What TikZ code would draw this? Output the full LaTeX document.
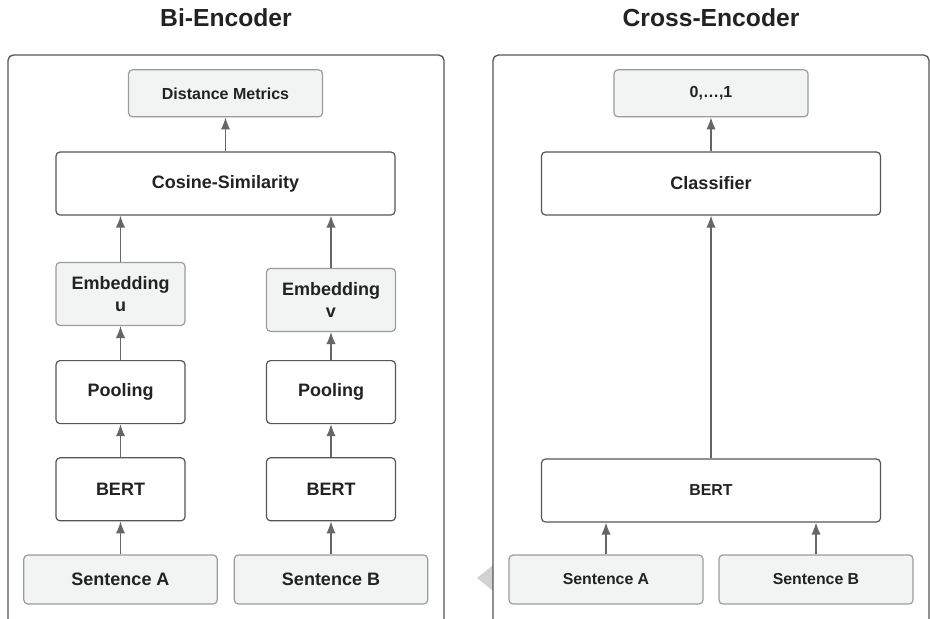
\documentclass[tikz,border=0pt]{standalone}
\usepackage{fontspec}
\setmainfont{Liberation Sans}
\usepackage{tikz}
\usetikzlibrary{positioning,arrows.meta}
\definecolor{boxclr}{HTML}{F2F3F3}
\definecolor{lineclr}{HTML}{555555}
\definecolor{softclr}{HTML}{9C9C9C}
\definecolor{arrowclr}{HTML}{666666}
\definecolor{txtclr}{HTML}{222222}
\definecolor{diamclr}{HTML}{D2D2D2}
\tikzset{ %
  ,>={Latex[length=9pt,width=7pt]}
  ,every node/.style={font=\bfseries\fontsize{13.5}{16.5}\selectfont, text=txtclr}
  ,block/.style={draw=lineclr, line width=0.9pt, rounded corners=3pt, fill=white, inner sep=0, minimum width=96.75pt, minimum height=47.25pt, node distance=24.75pt, align=center}
  ,data/.style={block, draw=softclr, fill=boxclr}
  ,wide/.style={block, minimum width=254.25pt}
  ,sent/.style={data, minimum width=145pt, minimum height=36.75pt}
  ,small/.style={font=\bfseries\fontsize{11.9}{14}\selectfont}
  ,tiny/.style={font=\bfseries\fontsize{12}{14}\selectfont}
  ,panel/.style={draw=lineclr, line width=1pt, rounded corners=4pt, fill=white}
  ,title/.style={font=\bfseries\fontsize{18.5}{22}\selectfont}
  ,flow/.style={->, draw=arrowclr, line width=1pt}
}
\begin{document}
\begin{tikzpicture}[x=0.75pt, y=-0.75pt]
    \useasboundingbox (0,0) rectangle (930,618);
    \clip (0,0) rectangle (930,618);
    % frames
    \draw[panel] (8,55) rectangle (444,640);
    \fill[diamclr] (477,578) -- (493,565) -- (509,578) -- (493,591) -- cycle;
    \draw[panel] (493,55) rectangle (929,640);
    \node[title] (bihead) at (226,18) {Bi-Encoder};
    \node[title] (crosshead) at (711,18) {Cross-Encoder};

    % bi-encoder
    \draw
    node[sent] (sa1) at (120.5,579.5) {Sentence A}
    node[block, above=of sa1] (bert1) {BERT}
    node[block, above=of bert1] (pool1) {Pooling}
    node[data, above=25.5pt of pool1] (emb1) {Embedding\\u}
    node[sent] (sb1) at (331,579.5) {Sentence B}
    node[block, above=of sb1] (bert2) {BERT}
    node[block, above=of bert2] (pool2) {Pooling}
    node[data, above=21pt of pool2] (emb2) {Embedding\\v}
    node[wide] (cos) at (225.5,183.5) {Cosine-Similarity}
    node[sent, tiny, minimum width=145.5pt, minimum height=35.25pt, above=25.5pt of cos] (dist) {Distance Metrics};
    \draw[flow] (sa1) -- (bert1);
    \draw[flow] (bert1) -- (pool1);
    \draw[flow] (pool1) -- (emb1);
    \draw[flow] (emb1) -- (emb1 |- cos.south);
    \draw[flow] (sb1) -- (bert2);
    \draw[flow] (bert2) -- (pool2);
    \draw[flow] (pool2) -- (emb2);
    \draw[flow] (emb2) -- (emb2 |- cos.south);
    \draw[flow] (cos) -- (dist);

    % cross-encoder
    \draw
    node[sent, small, minimum width=145.5pt] (sa2) at (606,579.5) {Sentence A}
    node[sent, small, minimum width=145.5pt] (sb2) at (816,579.5) {Sentence B}
    node[wide, small] (bert3) at (711,490.5) {BERT}
    node[wide] (cls) at (711,183.5) {Classifier}
    node[sent, tiny, minimum width=145.5pt, minimum height=35.25pt, above=25.5pt of cls] (score) {0,…,1};
    \draw[flow] (sa2) -- (sa2 |- bert3.south);
    \draw[flow] (sb2) -- (sb2 |- bert3.south);
    \draw[flow] (bert3) -- (cls);
    \draw[flow] (cls) -- (score);
\end{tikzpicture}
\end{document}
